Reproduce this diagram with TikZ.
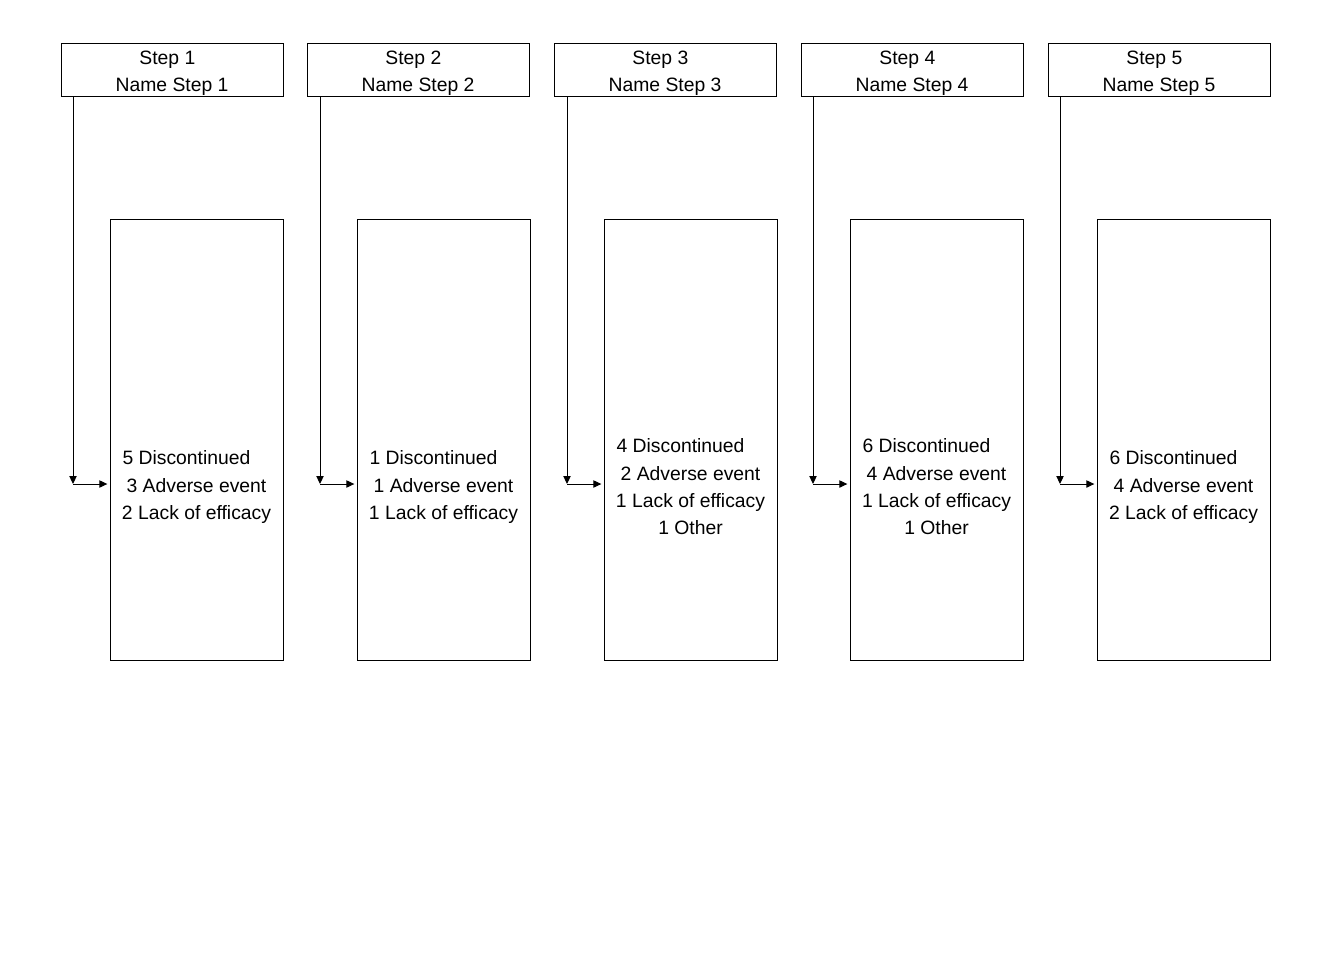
\documentclass[tikz,border=0pt]{standalone}
\usepackage{fontspec}
\setmainfont{Liberation Sans}
\usetikzlibrary{arrows.meta,calc}
\begin{document}
\begin{tikzpicture}[x=0.75pt,y=-0.75pt,
  every node/.style={font=\fontsize{14.5}{20.5}\selectfont, inner sep=0pt},
  stepbox/.style={draw, line width=0.75pt, anchor=north west},
  label/.style={align=center},
  link/.style={line width=0.75pt, -{Triangle[length=6pt,width=5.5pt]}}]
\useasboundingbox (0,0) rectangle (1344,960);

% five columns: header box, outcome box, elbow connector
\foreach \i/\hx/\bx/\lx/\a/\b/\c/\d in {
  1/61/110/73/5/3/2/,
  2/307/357/320/1/1/1/,
  3/554/604/567/4/2/1/1,
  4/801/850/813/6/4/1/1,
  5/1048/1097/1060/6/4/2/}{
  \node[stepbox, minimum width=222*0.75pt, minimum height=53*0.75pt] (head\i) at (\hx,43) {};
  \node[label] (headtxt\i) at ($(\hx,73)+(111,0)$) {Step \i\hspace*{7pt}\\Name Step \i};
  \node[stepbox, minimum width=173*0.75pt, minimum height=441*0.75pt] (box\i) at (\bx,219) {};
  \ifx\d\empty
    \node[label] (txt\i) at ($(\bx,487)+(86.5,0)$) {\a{} Discontinued\hspace*{15pt}\\\b{} Adverse event\\\c{} Lack of efficacy};
  \else
    \node[label] (txt\i) at ($(\bx,487)+(86.5,0)$) {\a{} Discontinued\hspace*{15pt}\\\b{} Adverse event\\\c{} Lack of efficacy\\\d{} Other};
  \fi
  \coordinate (turn\i) at (\lx,484);
  \draw[link] (head\i.south west -| turn\i) -- (turn\i);
  \draw[link, shorten >=2pt] (turn\i) -- (box\i.west |- turn\i);
}
\end{tikzpicture}
\end{document}
